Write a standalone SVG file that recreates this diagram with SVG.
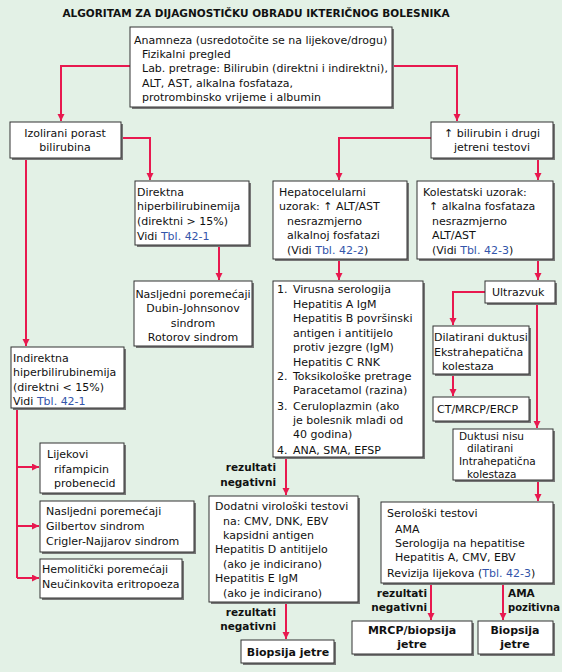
<svg xmlns="http://www.w3.org/2000/svg" width="562" height="672" viewBox="0 0 562 672">
<defs>
<marker id="ah" markerUnits="userSpaceOnUse" markerWidth="8" markerHeight="8" refX="7" refY="3.5" orient="auto">
<path d="M0,0 L7,3.5 L0,7 z" fill="#e8194f"/>
</marker>
</defs>
<style>
text{font-family:"DejaVu Sans","Verdana",sans-serif;font-size:11px;fill:#111}
.t{font-weight:bold;font-size:10.5px}
.b{font-weight:bold}
.lb{font-weight:bold;font-size:10.5px}
.c{text-anchor:middle}
.r{text-anchor:end}
.l{fill:#3355aa}
.sm{font-size:10.5px}
.box{fill:#fff;stroke:#333;stroke-width:1}
.sh{fill:#777}
#connectors path{fill:none;stroke:#e8194f;stroke-width:2;marker-end:url(#ah)}
#connectors path.n{marker-end:none}
</style>
<rect width="562" height="672" fill="#e3f1e6"/>
<text class="t c" x="256" y="17">ALGORITAM ZA DIJAGNOSTIČKU OBRADU IKTERIČNOG BOLESNIKA</text>

<g id="connectors">
<path d="M130,66 H61 V121"/>
<path d="M392,66 H457 V121"/>
<path d="M121,138 H150 V180"/>
<path d="M26,158 V346"/>
<path d="M219,245 V280"/>
<path d="M431,138 H339 V180"/>
<path d="M538,158 V180"/>
<path d="M339,259 V280"/>
<path d="M538,259 V280"/>
<path d="M485,292 H453 V325"/>
<path d="M537,303 V428"/>
<path d="M453,374 V396"/>
<path class="n" d="M17,408 V578"/>
<path d="M17,467 H39"/>
<path d="M17,526 H39"/>
<path d="M17,578 H39"/>
<path d="M286,457 V495"/>
<path d="M538,480 V501"/>
<path d="M286,602 V639"/>
<path d="M431,583 V620"/>
<path d="M503,583 V620"/>
</g>

<g id="n-top">
<rect class="sh" x="132" y="29" width="262" height="80"/>
<rect class="box" x="130" y="27" width="262" height="80"/>
<text x="134" y="44">Anamneza (usredotočite se na lijekove/drogu)</text>
<text x="142" y="58">Fizikalni pregled</text>
<text x="142" y="72">Lab. pretrage: Bilirubin (direktni i indirektni),</text>
<text x="142" y="87">ALT, AST, alkalna fosfataza,</text>
<text x="142" y="101">protrombinsko vrijeme i albumin</text>
</g>

<g id="n-izolirani">
<rect class="sh" x="12" y="124" width="111" height="36"/>
<rect class="box" x="10" y="122" width="111" height="36"/>
<text class="c" x="65" y="137">Izolirani porast</text>
<text class="c" x="65" y="151">bilirubina</text>
</g>

<g id="n-bilirubin">
<rect class="sh" x="433" y="124" width="122" height="36"/>
<rect class="box" x="431" y="122" width="122" height="36"/>
<text class="c" x="492" y="137">↑ bilirubin i drugi</text>
<text class="c" x="492" y="151">jetreni testovi</text>
</g>

<g id="n-direktna">
<rect class="sh" x="137" y="183" width="114" height="64"/>
<rect class="box" x="135" y="181" width="114" height="64"/>
<text x="137" y="196">Direktna</text>
<text x="137" y="210">hiperbilirubinemija</text>
<text x="137" y="225">(direktni &gt; 15%)</text>
<text x="137" y="240">Vidi <tspan class="l">Tbl. 42-1</tspan></text>
</g>

<g id="n-hepato">
<rect class="sh" x="275" y="183" width="134" height="78"/>
<rect class="box" x="273" y="181" width="134" height="78"/>
<text x="279" y="196">Hepatocelularni</text>
<text x="279" y="210">uzorak: ↑ ALT/AST</text>
<text x="287" y="225">nesrazmjerno</text>
<text x="287" y="239">alkalnoj fosfatazi</text>
<text x="287" y="254">(Vidi <tspan class="l">Tbl. 42-2</tspan>)</text>
</g>

<g id="n-kolestatski">
<rect class="sh" x="419" y="183" width="136" height="78"/>
<rect class="box" x="417" y="181" width="136" height="78"/>
<text x="423" y="196">Kolestatski uzorak:</text>
<text x="429" y="210">↑ alkalna fosfataza</text>
<text x="432" y="225">nesrazmjerno</text>
<text x="432" y="239">ALT/AST</text>
<text x="432" y="254">(Vidi <tspan class="l">Tbl. 42-3</tspan>)</text>
</g>

<g id="n-nasljedni1">
<rect class="sh" x="136" y="283" width="118" height="65"/>
<rect class="box" x="134" y="281" width="118" height="65"/>
<text class="c" x="193" y="298">Nasljedni poremećaji</text>
<text class="c" x="193" y="312">Dubin-Johnsonov</text>
<text class="c" x="193" y="327">sindrom</text>
<text class="c" x="193" y="341">Rotorov sindrom</text>
</g>

<g id="n-lista">
<rect class="sh" x="275" y="283" width="150" height="176"/>
<rect class="box" x="273" y="281" width="150" height="176"/>
<text x="277" y="293">1.</text>
<text x="293" y="293">Virusna serologija</text>
<text x="293" y="308">Hepatitis A IgM</text>
<text x="293" y="322">Hepatitis B površinski</text>
<text x="293" y="337">antigen i antitijelo</text>
<text x="293" y="351">protiv jezgre (IgM)</text>
<text x="293" y="366">Hepatitis C RNK</text>
<text x="277" y="380">2.</text>
<text x="293" y="380">Toksikološke pretrage</text>
<text x="293" y="394">Paracetamol (razina)</text>
<text x="277" y="410">3.</text>
<text x="293" y="410">Ceruloplazmin (ako</text>
<text x="293" y="424">je bolesnik mlađi od</text>
<text x="293" y="438">40 godina)</text>
<text x="277" y="454">4.</text>
<text x="293" y="454">ANA, SMA, EFSP</text>
</g>

<g id="n-ultrazvuk">
<rect class="sh" x="487" y="283" width="70" height="22"/>
<rect class="box" x="485" y="281" width="70" height="22"/>
<text x="492" y="296">Ultrazvuk</text>
</g>

<g id="n-dilatirani">
<rect class="sh" x="435" y="328" width="96" height="48"/>
<rect class="box" x="433" y="326" width="96" height="48"/>
<text x="434" y="341">Dilatirani duktusi</text>
<text x="434" y="356">Ekstrahepatična</text>
<text x="442" y="370">kolestaza</text>
</g>

<g id="n-ct">
<rect class="sh" x="435" y="399" width="96" height="24"/>
<rect class="box" x="433" y="397" width="96" height="24"/>
<text x="437" y="413">CT/MRCP/ERCP</text>
</g>

<g id="n-indirektna">
<rect class="sh" x="13" y="349" width="113" height="61"/>
<rect class="box" x="11" y="347" width="113" height="61"/>
<text x="13" y="362">Indirektna</text>
<text x="13" y="376">hiperbilirubinemija</text>
<text x="13" y="391">(direktni &lt; 15%)</text>
<text x="13" y="405">Vidi <tspan class="l">Tbl. 42-1</tspan></text>
</g>

<g id="n-duktusi">
<rect class="sh" x="455" y="431" width="100" height="51"/>
<rect class="box" x="453" y="429" width="100" height="51"/>
<text class="sm" x="459" y="440">Duktusi nisu</text>
<text class="sm" x="467" y="452">dilatirani</text>
<text class="sm" x="459" y="465">Intrahepatična</text>
<text class="sm" x="467" y="478">kolestaza</text>
</g>

<g id="n-lijekovi">
<rect class="sh" x="42" y="445" width="84" height="50"/>
<rect class="box" x="40" y="443" width="84" height="50"/>
<text x="47" y="458">Lijekovi</text>
<text x="54" y="473">rifampicin</text>
<text x="54" y="487">probenecid</text>
</g>

<g id="n-dodatni">
<rect class="sh" x="211" y="498" width="149" height="106"/>
<rect class="box" x="209" y="496" width="149" height="106"/>
<text x="215" y="510">Dodatni virološki testovi</text>
<text x="223" y="525">na: CMV, DNK, EBV</text>
<text x="223" y="539">kapsidni antigen</text>
<text x="215" y="553">Hepatitis D antitijelo</text>
<text x="223" y="568">(ako je indicirano)</text>
<text x="215" y="582">Hepatitis E IgM</text>
<text x="223" y="597">(ako je indicirano)</text>
</g>

<g id="n-nasljedni2">
<rect class="sh" x="42" y="503" width="154" height="51"/>
<rect class="box" x="40" y="501" width="154" height="51"/>
<text x="46" y="515">Nasljedni poremećaji</text>
<text x="46" y="530">Gilbertov sindrom</text>
<text x="46" y="545">Crigler-Najjarov sindrom</text>
</g>

<g id="n-seroloski">
<rect class="sh" x="383" y="504" width="172" height="81"/>
<rect class="box" x="381" y="502" width="172" height="81"/>
<text x="387" y="517">Serološki testovi</text>
<text x="395" y="533">AMA</text>
<text x="395" y="547">Serologija na hepatitise</text>
<text x="395" y="561">Hepatitis A, CMV, EBV</text>
<text x="387" y="577">Revizija lijekova (<tspan class="l">Tbl. 42-3</tspan>)</text>
</g>

<g id="n-hemoliticki">
<rect class="sh" x="42" y="561" width="142" height="39"/>
<rect class="box" x="40" y="559" width="142" height="39"/>
<text x="42" y="573">Hemolitički poremećaji</text>
<text x="42" y="588">Neučinkovita eritropoeza</text>
</g>

<g id="n-mrcp">
<rect class="sh" x="354" y="623" width="120" height="33"/>
<rect class="box" x="352" y="621" width="120" height="33"/>
<text class="b c" x="412" y="634">MRCP/biopsija</text>
<text class="b c" x="412" y="648">jetre</text>
</g>

<g id="n-biopsija-r">
<rect class="sh" x="480" y="623" width="75" height="33"/>
<rect class="box" x="478" y="621" width="75" height="33"/>
<text class="b c" x="515" y="634">Biopsija</text>
<text class="b c" x="515" y="648">jetre</text>
</g>

<g id="n-biopsija-m">
<rect class="sh" x="243" y="642" width="93" height="23"/>
<rect class="box" x="241" y="640" width="93" height="23"/>
<text class="b c" x="288" y="656">Biopsija jetre</text>
</g>

<g id="labels">
<text class="lb r" x="276" y="471">rezultati</text>
<text class="lb r" x="276" y="486">negativni</text>
<text class="lb r" x="276" y="616">rezultati</text>
<text class="lb r" x="276" y="630">negativni</text>
<text class="lb r" x="427" y="597">rezultati</text>
<text class="lb r" x="427" y="611">negativni</text>
<text class="lb" x="508" y="597">AMA</text>
<text class="lb" x="508" y="611" textLength="52" lengthAdjust="spacingAndGlyphs">pozitivna</text>
</g>
</svg>
